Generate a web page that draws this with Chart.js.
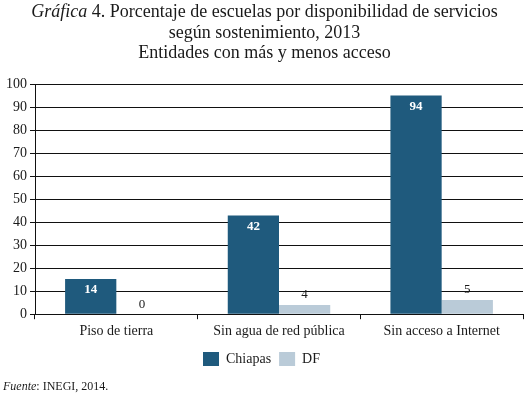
<!DOCTYPE html>
<html>
<head>
<meta charset="utf-8">
<script src="https://cdn.jsdelivr.net/npm/chart.js@4/dist/chart.umd.min.js"></script>
<style>
  html, body { margin: 0; padding: 0; background: #fff; }
  body { width: 529px; height: 394px; position: relative; overflow: hidden; font-family: "Liberation Serif", serif; color: #1a1a1a; }
  #chart-wrap { position: absolute; left: 0; top: 0; width: 529px; height: 394px; }
  .title { position: absolute; left: 0; top: 1px; width: 529px; text-align: center; font-size: 18px; line-height: 20.5px; }
  .source { position: absolute; left: 3px; top: 379px; font-size: 12px; }
</style>
</head>
<body>
<div id="chart-wrap"><canvas id="chart"></canvas></div>
<div class="title"><em>Gráfica</em> 4. Porcentaje de escuelas por disponibilidad de servicios<br>según sostenimiento, 2013<br>Entidades con más y menos acceso</div>
<div class="source"><em>Fuente</em>: INEGI, 2014.</div>
<script>
// values (bar heights) and the printed labels
const categories = ['Piso de tierra', 'Sin agua de red pública', 'Sin acceso a Internet'];
const chiapasValues = [15.3, 42.9, 95];
const dfValues = [0, 4, 6.2];
const chiapasLabels = ['14', '42', '94'];
const dfLabels = ['0', '4', '5'];
const yTicks = [0, 10, 20, 30, 40, 50, 60, 70, 80, 90, 100];

const serif = '"Liberation Serif", serif';
Chart.defaults.font.family = serif;
Chart.defaults.color = '#1a1a1a';

// draws the value labels: white inside Chiapas bars, dark above DF bars
const valueLabels = {
    id: 'valueLabels',
    afterDatasetsDraw(chart) {
        const ctx = chart.ctx;
        ctx.save();
        ctx.textAlign = 'center';
        ctx.textBaseline = 'middle';
        chart.getDatasetMeta(0).data.forEach((bar, i) => {
            ctx.font = 'bold 13px ' + serif;
            ctx.fillStyle = '#ffffff';
            ctx.fillText(chiapasLabels[i], bar.x, bar.y + 11);
        });
        chart.getDatasetMeta(1).data.forEach((bar, i) => {
            ctx.font = '13px ' + serif;
            ctx.fillStyle = '#1a1a1a';
            ctx.fillText(dfLabels[i], bar.x, bar.y - 10);
        });
        ctx.restore();
    }
};

new Chart(document.getElementById('chart'), {
    type: 'bar',
    data: {
        labels: categories,
        datasets: [
            { label: 'Chiapas', data: chiapasValues, backgroundColor: '#1f5a7d' },
            { label: 'DF', data: dfValues, backgroundColor: '#bacbd8' }
        ]
    },
    options: {
        responsive: true,
        maintainAspectRatio: false,
        animation: false,
        datasets: { bar: { barPercentage: 1, categoryPercentage: 0.63 } },
        layout: { padding: { top: 84, right: 6, left: 0, bottom: 18 } },
        scales: {
            y: {
                min: 0,
                max: 100,
                afterBuildTicks: s => { s.ticks = yTicks.map(v => ({ value: v })); },
                afterFit: s => { s.width = 35; },
                grid: { color: '#111', lineWidth: 1, tickLength: 5, drawTicks: true },
                border: { color: '#111', width: 1 },
                ticks: { color: '#1a1a1a', padding: 3, font: { family: serif, size: 14 } }
            },
            x: {
                grid: { color: '#111', drawOnChartArea: false, tickLength: 5, offset: true },
                border: { color: '#111', width: 1 },
                ticks: { color: '#1a1a1a', padding: 4, font: { family: serif, size: 14 } }
            }
        },
        plugins: {
            legend: {
                position: 'bottom',
                labels: {
                    boxWidth: 16,
                    boxHeight: 14,
                    padding: 8,
                    color: '#1a1a1a',
                    font: { family: serif, size: 14 }
                }
            },
            tooltip: { enabled: false },
            title: { display: false }
        }
    },
    plugins: [valueLabels]
});
</script>
</body>
</html>
